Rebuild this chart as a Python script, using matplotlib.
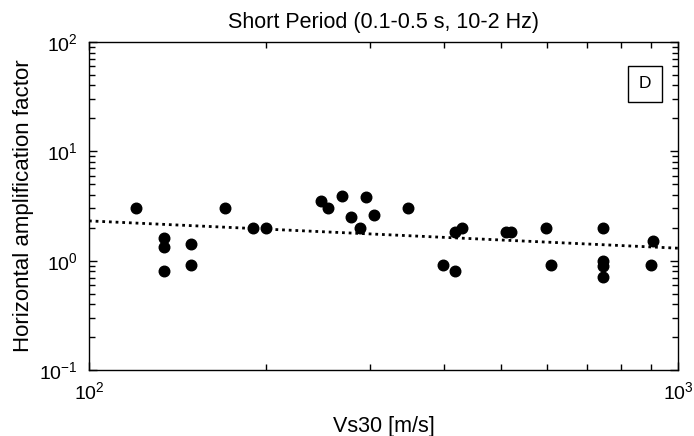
import matplotlib
matplotlib.use("Agg")
import matplotlib.pyplot as plt
from matplotlib.ticker import LogLocator, NullFormatter, FixedLocator

plt.rcParams['font.family'] = ['Liberation Sans', 'DejaVu Sans']
plt.rcParams['mathtext.fontset'] = 'custom'
plt.rcParams['mathtext.rm'] = 'Liberation Sans'
plt.rcParams['mathtext.it'] = 'Liberation Sans'

# Site Vs30 [m/s] and horizontal amplification factor
vs30 = [120, 134, 134, 134, 149, 149, 170, 190, 200,
        248, 255, 269, 279, 288, 295, 305, 348,
        399, 418, 419, 429, 510, 521, 598, 609,
        747, 747, 747, 747, 899, 908]
amp = [3.0, 1.62, 1.33, 0.81, 1.41, 0.91, 3.0, 1.98, 1.98,
       3.5, 3.0, 3.9, 2.5, 1.98, 3.8, 2.6, 3.0,
       0.91, 1.84, 0.81, 2.0, 1.84, 1.84, 2.0, 0.91,
       2.0, 1.0, 0.9, 0.71, 0.91, 1.5]

# Regression line end points
fit_vs = [100, 1000]
fit_amp = [2.31, 1.30]

x_ticks = [100, 1000]
x_ticklabels = [r'$\mathregular{10^{2}}$', r'$\mathregular{10^{3}}$']
y_ticks = [0.1, 1, 10, 100]
y_ticklabels = [r'$\mathregular{10^{-1}}$', r'$\mathregular{10^{0}}$',
                r'$\mathregular{10^{1}}$', r'$\mathregular{10^{2}}$']

fig = plt.figure(figsize=(6.94, 4.36), dpi=100)
ax = fig.add_axes([0.1282, 0.1514, 0.8488, 0.7523])

ax.plot(vs30, amp, 'o', color='black', markersize=7.6, linestyle='none', zorder=3)
ax.plot(fit_vs, fit_amp, color='black', linewidth=2, linestyle=(0, (1, 1.4)), zorder=2)

ax.set_xscale('log')
ax.set_yscale('log')
ax.set_xlim(100, 1000)
ax.set_ylim(0.1, 100)

ax.xaxis.set_major_locator(FixedLocator(x_ticks))
ax.set_xticklabels(x_ticklabels)
ax.yaxis.set_major_locator(FixedLocator(y_ticks))
ax.set_yticklabels(y_ticklabels)
ax.xaxis.set_minor_locator(LogLocator(base=10, subs=range(2, 10)))
ax.yaxis.set_minor_locator(LogLocator(base=10, subs=range(2, 10)))
ax.xaxis.set_minor_formatter(NullFormatter())
ax.yaxis.set_minor_formatter(NullFormatter())

ax.tick_params(which='both', direction='in', top=True, right=True, colors='black')
ax.tick_params(which='major', length=6, width=1, labelsize=14, pad=8)
ax.tick_params(which='minor', length=4, width=1)
for s in ax.spines.values():
    s.set_linewidth(1)

ax.set_title('Short Period (0.1-0.5 s, 10-2 Hz)', fontsize=15.5, pad=10)
ax.set_xlabel('Vs30 [m/s]', fontsize=15.5, labelpad=9)
ax.set_ylabel('Horizontal amplification factor', fontsize=16, labelpad=4)

ax.text(0.944, 0.872, 'D', transform=ax.transAxes, ha='center', va='center',
        fontsize=12.5,
        bbox=dict(boxstyle='square,pad=0.62', facecolor='white', edgecolor='black', linewidth=1))

fig.savefig('out.png', dpi=100)
